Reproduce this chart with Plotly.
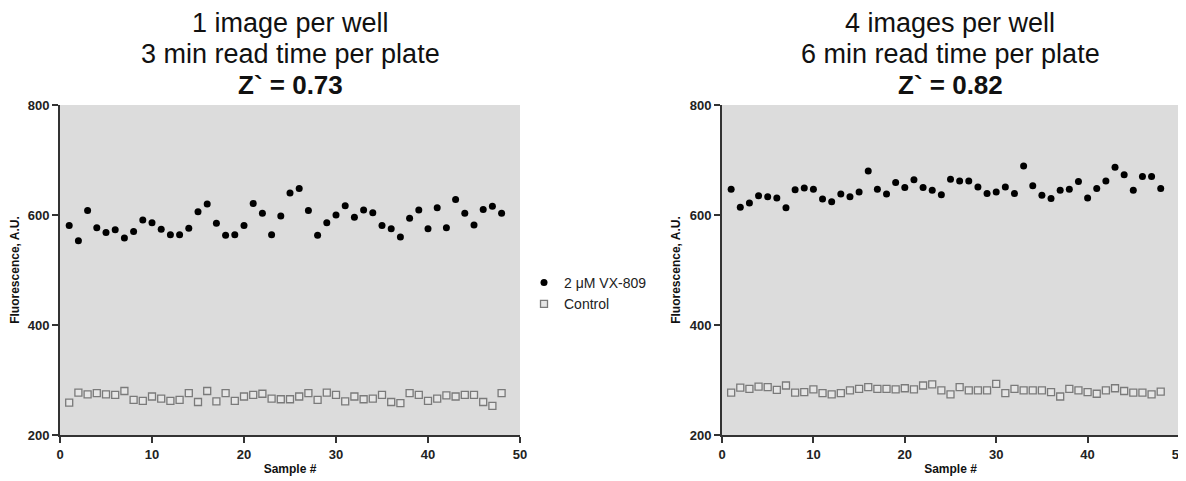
import plotly.graph_objects as go

samples = list(range(1, 49))

left_vx = [581, 553, 608, 577, 568, 573, 558, 570, 591, 586, 574, 564, 564, 576, 606, 620,
           585, 563, 564, 581, 621, 603, 564, 598, 640, 648, 608, 563, 586, 600, 617, 596,
           609, 604, 581, 575, 560, 594, 609, 575, 613, 577, 628, 603, 582, 610, 616, 603]
left_ctrl = [259, 277, 274, 276, 274, 273, 280, 264, 262, 270, 266, 262, 264, 276, 260, 280,
             261, 276, 262, 270, 273, 275, 266, 265, 265, 270, 276, 264, 277, 273, 261, 270,
             265, 266, 273, 260, 258, 276, 273, 262, 266, 272, 270, 273, 273, 260, 253, 276]
right_vx = [647, 614, 622, 635, 633, 631, 613, 646, 649, 647, 629, 624, 638, 633, 642, 680,
            647, 638, 659, 650, 664, 650, 645, 637, 665, 662, 662, 651, 639, 642, 651, 639,
            689, 653, 636, 630, 645, 647, 661, 631, 648, 662, 687, 673, 645, 670, 670, 648]
right_ctrl = [277, 286, 284, 288, 287, 282, 290, 277, 278, 283, 276, 274, 276, 281, 284, 287,
              284, 284, 283, 285, 283, 290, 292, 281, 274, 287, 281, 281, 281, 293, 276, 284,
              281, 281, 281, 278, 270, 284, 281, 278, 275, 281, 285, 280, 277, 277, 274, 279]

titles_left = ["1 image per well", "3 min read time per plate", "<b>Z` = 0.73</b>"]
titles_right = ["4 images per well", "6 min read time per plate", "<b>Z` = 0.82</b>"]
x_ticks = [0, 10, 20, 30, 40, 50]
y_ticks = [200, 400, 600, 800]
series_names = ["2 μM VX-809", "Control"]

FONT = "Arial, Liberation Sans, sans-serif"
OFF = 8                      # page body margin offset
W, H = 1186 - OFF, 481 - OFF


def px(x):
    return (x - OFF) / W


def py(y):
    return 1 - (y - OFF) / H


fig = go.Figure()


def add_panel(vx, ctrl, xa, ya, show):
    fig.add_trace(go.Scatter(x=samples, y=vx, mode="markers", name=series_names[0],
                             xaxis=xa, yaxis=ya, showlegend=show, legendgroup="vx",
                             marker=dict(symbol="circle", size=7, color="black")))
    fig.add_trace(go.Scatter(x=samples, y=ctrl, mode="markers", name=series_names[1],
                             xaxis=xa, yaxis=ya, showlegend=show, legendgroup="ctrl",
                             marker=dict(symbol="square", size=7, color="#e6e6e6",
                                         line=dict(color="#7a7a7a", width=1.3))))


add_panel(left_vx, left_ctrl, "x", "y", True)
add_panel(right_vx, right_ctrl, "x2", "y2", False)

ydom = [py(435), py(105)]
axis_common = dict(showgrid=False, zeroline=False, showline=True, linecolor="#333333",
                   linewidth=2, ticks="outside", ticklen=6, tickwidth=2, tickcolor="#333333",
                   automargin=False, ticklabeloverflow="allow",
                   tickfont=dict(family=FONT, size=13, color="#222222", weight="bold"))
title_font = dict(family=FONT, size=12, weight="bold", color="#111111")

fig.update_layout(
    width=W, height=H,
    margin=dict(l=0, r=0, t=0, b=0, autoexpand=False),
    paper_bgcolor="white",
    plot_bgcolor="#dcdcdc",
    font=dict(family=FONT, color="#111111"),
    xaxis=dict(domain=[px(60), px(520)], range=[0, 50], tickvals=x_ticks, anchor="y",
               title=dict(text="Sample #", font=title_font, standoff=4), **axis_common),
    yaxis=dict(domain=ydom, range=[200, 800], tickvals=y_ticks, anchor="x",
               title=dict(text="Fluorescence, A.U.", font=title_font, standoff=6), **axis_common),
    xaxis2=dict(domain=[px(722), px(1179)], range=[0, 50], tickvals=x_ticks, anchor="y2",
                title=dict(text="Sample #", font=title_font, standoff=4), **axis_common),
    yaxis2=dict(domain=ydom, range=[200, 800], tickvals=y_ticks, anchor="x2",
                title=dict(text="Fluorescence, A.U.", font=title_font, standoff=6), **axis_common),
    legend=dict(x=px(524), y=py(267), xanchor="left", yanchor="top",
                font=dict(family=FONT, size=14, color="#222222"), bgcolor="rgba(0,0,0,0)",
                tracegroupgap=0),
)

ys = [23, 54, 85]
sizes = [27, 27, 26]
for cx, lines in ((290, titles_left), (950, titles_right)):
    for txt, yy, fs in zip(lines, ys, sizes):
        fig.add_annotation(text=txt, x=px(cx), y=py(yy), xref="paper", yref="paper",
                           xanchor="center", yanchor="middle", showarrow=False,
                           font=dict(family=FONT, size=fs, color="#111111"))

fig.write_html("out.html")
